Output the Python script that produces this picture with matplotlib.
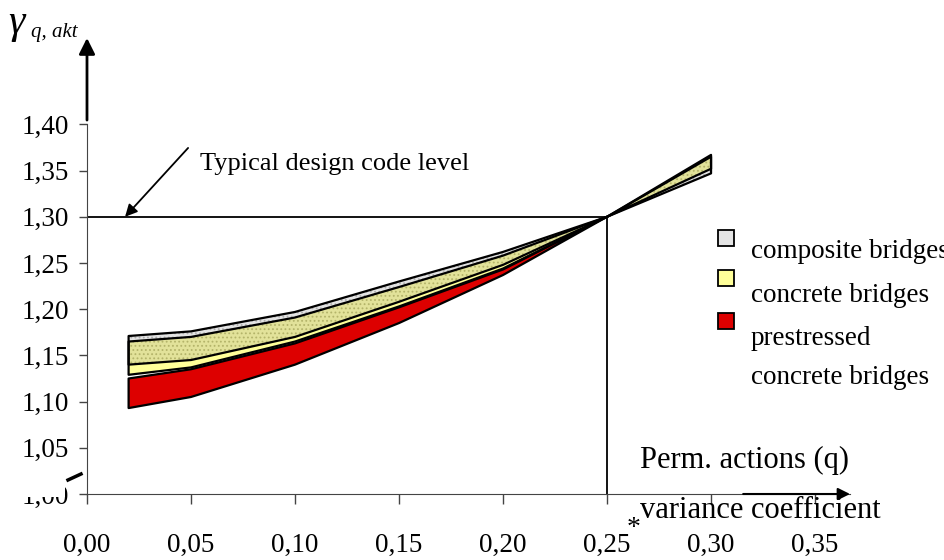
import matplotlib.pyplot as plt
import numpy as np

plt.rcParams['font.family'] = ['Liberation Serif', 'DejaVu Serif']
plt.rcParams['hatch.linewidth'] = 0.8

# variance coefficient of permanent actions
x = [0.02, 0.05, 0.10, 0.15, 0.20, 0.25, 0.30]
x_pre = [0.02, 0.05, 0.10, 0.15, 0.20, 0.25]

# two boundary curves of every band (they swap after 0.25)
comp_a = [1.171, 1.176, 1.197, 1.230, 1.262, 1.300, 1.347]
comp_b = [1.140, 1.145, 1.170, 1.208, 1.248, 1.300, 1.367]
conc_a = [1.165, 1.170, 1.191, 1.224, 1.258, 1.300, 1.352]
conc_b = [1.129, 1.137, 1.165, 1.203, 1.244, 1.300, 1.365]
pre_a = [1.125, 1.135, 1.163, 1.202, 1.243, 1.300]
pre_b = [1.093, 1.105, 1.140, 1.185, 1.237, 1.300]

code_level = 1.30
x_star = 0.25

x_ticks = [0.00, 0.05, 0.10, 0.15, 0.20, 0.25, 0.30, 0.35]
x_tick_labels = ['0,00', '0,05', '0,10', '0,15', '0,20', '0,25', '0,30', '0,35']
y_ticks = [1.00, 1.05, 1.10, 1.15, 1.20, 1.25, 1.30, 1.35, 1.40]
y_tick_labels = ['1,00', '1,05', '1,10', '1,15', '1,20', '1,25', '1,30', '1,35', '1,40']

legend_labels = ['composite bridges', 'concrete bridges', 'prestressed', 'concrete bridges']

RED = '#dd0000'
YELLOW = '#ffff99'
OLIVE = '#e2e29a'
GRAY = '#e4e4e4'

W, H = 944, 560


def fx(px):
    return px / W


def fy(py):
    return 1 - py / H


fig = plt.figure(figsize=(W / 100, H / 100), dpi=100)
ax = fig.add_axes([fx(87), fy(494), fx(850) - fx(87), fy(38) - fy(494)])
ax.set_xlim(0, 0.3668)
ax.set_ylim(1.0, 1.4935)

x = np.array(x)
comp_a, comp_b = np.array(comp_a), np.array(comp_b)
conc_a, conc_b = np.array(conc_a), np.array(conc_b)

# bands
ax.fill_between(x_pre, pre_b, pre_a, facecolor=RED, linewidth=0)
ax.fill_between(x, conc_a, conc_b, facecolor=YELLOW, linewidth=0)
ax.fill_between(x, comp_a, comp_b, facecolor=GRAY, linewidth=0)
ax.fill_between(x, comp_a, comp_b, facecolor='none', edgecolor='#b0b0b0',
                hatch='....', linewidth=0)
# overlap of composite and concrete bands
lo = np.maximum(np.minimum(comp_a, comp_b), np.minimum(conc_a, conc_b))
hi = np.minimum(np.maximum(comp_a, comp_b), np.maximum(conc_a, conc_b))
ax.fill_between(x, lo, hi, facecolor=OLIVE, linewidth=0)
ax.fill_between(x, lo, hi, facecolor='none', edgecolor='#b4b46a',
                hatch='....', linewidth=0)

# outlines
for xs, a, b in [(x_pre, pre_a, pre_b), (x, conc_a, conc_b), (x, comp_a, comp_b)]:
    ax.fill_between(xs, a, b, facecolor='none', edgecolor='black', linewidth=1.6)

# design code level and 0,25 marker
ax.plot([0, x_star], [code_level, code_level], color='black', lw=1.3)
ax.plot([x_star, x_star], [1.0, code_level], color='black', lw=1.3)
ax.annotate('', xy=(0.0183, code_level), xytext=(0.0486, 1.3745),
            arrowprops=dict(arrowstyle='-|>', color='black', lw=1.3,
                            mutation_scale=18, shrinkA=0, shrinkB=0))
ax.text(0.0541, 1.357, 'Typical design code level', fontsize=19, va='center')

# axes
for s in ['top', 'right']:
    ax.spines[s].set_visible(False)
ax.spines['left'].set_color('#444444')
ax.spines['bottom'].set_color('#444444')
ax.spines['left'].set_bounds(1.0, 1.40)
ax.annotate('', xy=(0, 1.0), xytext=(0, 0.82), xycoords='axes fraction',
            arrowprops=dict(arrowstyle='-|>', color='black', lw=2,
                            mutation_scale=24, shrinkA=0, shrinkB=0))
ax.annotate('', xy=(1.0, 0), xytext=(0.86, 0), xycoords='axes fraction',
            arrowprops=dict(arrowstyle='-|>', color='black', lw=1.5,
                            mutation_scale=18, shrinkA=0, shrinkB=0))

ax.set_xticks(x_ticks)
ax.set_xticklabels(x_tick_labels)
ax.set_yticks(y_ticks)
ax.set_yticklabels(y_tick_labels)
ax.tick_params(axis='x', direction='out', length=7, width=1, pad=21,
               labelsize=19.5, color='#444444')
ax.tick_params(axis='y', direction='out', length=6, width=1, pad=7,
               labelsize=19.5, color='#444444')

# the 1,00 label is mostly hidden in the original
fig.add_artist(plt.Rectangle((fx(18), fy(497)), fx(47), fy(474) - fy(497),
                             transform=fig.transFigure, facecolor='white',
                             edgecolor='none', zorder=5))
fig.add_artist(plt.Line2D([fx(68), fx(81)], [fy(480), fy(474)],
                          transform=fig.transFigure, color='black', lw=2.5,
                          zorder=6))

# y axis label
fig.text(fx(8), fy(33), 'γ', fontsize=30, style='italic', va='baseline')
fig.text(fx(31), fy(37), 'q, akt', fontsize=15, style='italic', va='baseline')

# x axis texts
fig.text(fx(640), fy(468), 'Perm. actions (q)', fontsize=22, va='baseline')
fig.text(fx(640), fy(518), 'variance coefficient', fontsize=22, va='baseline')
fig.text(fx(627), fy(535), '*', fontsize=20, va='baseline')

# legend
swatches = [(GRAY, 230), (YELLOW, 270), (RED, 313)]
for col, top in swatches:
    fig.add_artist(plt.Rectangle((fx(718), fy(top + 16)), fx(16), fy(top) - fy(top + 16),
                                 transform=fig.transFigure, facecolor=col,
                                 edgecolor='black', lw=1.3))
for label, ty in zip(legend_labels, [258, 302, 345, 384]):
    fig.text(fx(751), fy(ty), label, fontsize=19.5, va='baseline')

fig.savefig('out.png', dpi=100)
